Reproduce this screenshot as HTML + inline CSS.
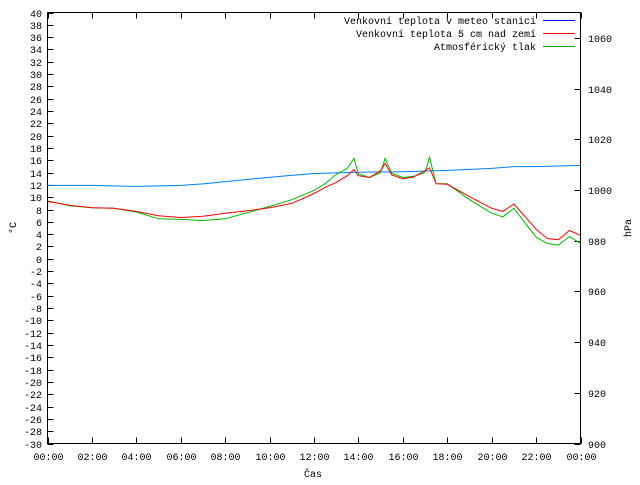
<!DOCTYPE html>
<html><head><meta charset="utf-8"><style>
html,body{margin:0;padding:0;background:#fff}
svg text{font-family:"Liberation Mono",monospace;font-size:10px;fill:#000}
</style></head><body>
<svg id="c" width="640" height="480" xmlns="http://www.w3.org/2000/svg">
<rect x="47.5" y="12.5" width="533" height="431" fill="none" stroke="#000"/>
<g id="ticks"></g>
<g id="series"></g>
<text x="313" y="477" text-anchor="middle">Čas</text>
<text x="16" y="228" text-anchor="middle" transform="rotate(-90 16 228)">°C</text>
<text x="631" y="228" text-anchor="middle" transform="rotate(-90 631 228)">hPa</text>
<g>
<text x="536" y="24" text-anchor="end">Venkovní teplota v meteo stanici</text>
<line x1="543" y1="20.5" x2="575" y2="20.5" stroke="#0000ff"/>
<text x="536" y="37" text-anchor="end">Venkovní teplota 5 cm nad zemí</text>
<line x1="543" y1="33.5" x2="575" y2="33.5" stroke="#ff0000"/>
<text x="536" y="50" text-anchor="end">Atmosférický tlak</text>
<line x1="543" y1="46.5" x2="575" y2="46.5" stroke="#00a000"/>
</g>
</svg>
<script>
const xTickLabels=["00:00","02:00","04:00","06:00","08:00","10:00","12:00","14:00","16:00","18:00","20:00","22:00","00:00"];
const pressHours=[0,2,4,6,7,8,10,12,14,16,18,20,21,22,24];
const pressValues=[1001.8,1001.8,1001.4,1001.8,1002.4,1003.3,1005,1006.5,1007,1007.2,1007.7,1008.5,1009.2,1009.2,1009.7];
const tempHours=[0,1,2,3,4,5,6,7,8,9,10,11,12,12.5,13,13.5,13.8,14,14.5,15,15.2,15.5,16,16.5,17,17.2,17.5,18,19,20,20.5,21,22,22.5,23,23.5,24];
const redValues=[9.3,8.7,8.3,8.2,7.7,7.0,6.7,6.9,7.4,7.8,8.3,9.0,10.6,11.6,12.4,13.5,14.5,13.5,13.2,14.3,15.5,13.6,13.0,13.3,14.3,14.8,12.2,12.1,10.1,8.2,7.7,8.9,4.8,3.3,3.1,4.6,3.8];
const greenValues=[9.4,8.6,8.3,8.2,7.6,6.5,6.4,6.2,6.5,7.5,8.5,9.6,11.1,12.2,13.7,14.7,16.3,13.8,13.2,14.0,16.3,13.9,13.2,13.4,14.0,16.5,12.2,12.2,9.6,7.4,6.8,8.2,3.5,2.5,2.2,3.6,2.5];
const L=47.5,R=580.5,T=12.5,B=443.5;
const xs=h=>L+(R-L)*h/24;
const yT=t=>B-(B-T)*(t+30)/70;
const yP=p=>B-(B-T)*(p-900)/170;
const NS="http://www.w3.org/2000/svg";
const tk=document.getElementById('ticks'),se=document.getElementById('series');
function mk(tag,a,parent){const e=document.createElementNS(NS,tag);for(const k in a)e.setAttribute(k,a[k]);parent.appendChild(e);return e;}
for(let t=-30;t<=40;t+=2){const y=Math.round(yT(t))+0.5;
 const l=mk('line',{x1:L,y1:y,x2:L+6,y2:y,stroke:'#000'},tk);
 
 
 const tx=mk('text',{x:42,y:y+3.5,'text-anchor':'end'},tk);tx.textContent=t;
 
 }
for(let p=900;p<=1060;p+=20){const y=Math.round(yP(p))+0.5;
 const l=mk('line',{x1:R-6,y1:y,x2:R,y2:y,stroke:'#000'},tk);
 
 
 const tx=mk('text',{x:588,y:y+3.5},tk);tx.textContent=p;
 
 }
xTickLabels.forEach((s,i)=>{const x=Math.round(xs(i*2))+0.5;
 const l=mk('line',{x1:x,y1:B,x2:x,y2:B-6,stroke:'#000'},tk);
 
 
 const l2=mk('line',{x1:x,y1:T,x2:x,y2:T+6,stroke:'#000'},tk);
 
 
 const tx=mk('text',{x:x,y:460,'text-anchor':'middle'},tk);tx.textContent=s;
 
 });
function line(hs,vs,yf,col,name){const d=hs.map((h,i)=>(i?'L':'M')+xs(h).toFixed(1)+','+yf(vs[i]).toFixed(1)).join('');
 const p=mk('path',{d:d,fill:'none',stroke:col,'stroke-width':1},se);
 
 }
line(pressHours,pressValues,yP,'#0080ff','pressure-line');
line(tempHours,greenValues,yT,'#00bb00','ground-temp-line');
line(tempHours,redValues,yT,'#ff0000','station-temp-line');
</script>
</body></html>
